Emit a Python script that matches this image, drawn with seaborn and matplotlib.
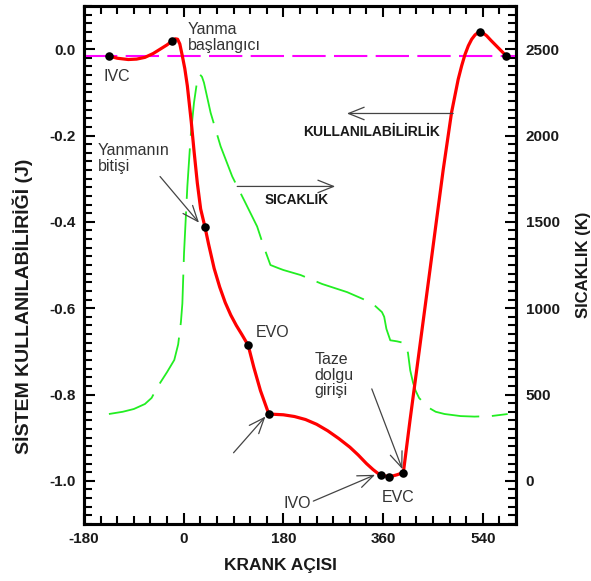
import numpy as np
import pandas as pd
import matplotlib
matplotlib.use("Agg")
import matplotlib.pyplot as plt
import seaborn as sns

# Sistem kullanilabilirligi egrisi (krank acisi, J)
krank_ex = [-135, -120, -100, -85, -70, -55, -40, -30, -21, -15, -11, -7, -2.4, 2,
            6.6, 10, 13.8, 18.6, 24.6, 30.6, 38.4, 45, 55, 65, 75, 85, 95, 105,
            116.4, 126.6, 138.6, 153.6, 165, 180, 200, 220, 240, 260, 280, 300, 315,
            330, 342, 350, 356, 371, 385, 396.6, 408.6, 420.6, 432.6, 444.6, 456.6,
            468.6, 483.6, 495.6, 502, 508, 514, 520, 526, 531, 534.6, 540, 547,
            555, 565, 575, 582.6]
exergy = [-0.016, -0.021, -0.024, -0.023, -0.019, -0.010, 0.002, 0.010, 0.019, 0.024,
          0.023, 0.012, -0.016, -0.045, -0.085, -0.125, -0.170, -0.235, -0.310,
          -0.370, -0.412, -0.452, -0.508, -0.551, -0.587, -0.616, -0.640, -0.661,
          -0.686, -0.737, -0.791, -0.845, -0.846, -0.847, -0.851, -0.858, -0.869,
          -0.884, -0.902, -0.922, -0.940, -0.960, -0.974, -0.982, -0.986, -0.991,
          -0.986, -0.981, -0.860, -0.744, -0.628, -0.512, -0.395, -0.279, -0.147,
          -0.070, -0.038, -0.012, 0.008, 0.023, 0.033, 0.038, 0.040, 0.038, 0.031,
          0.020, 0.007, -0.006, -0.016]

# Sicaklik egrisi (krank acisi, K)
krank_t = [-135, -110, -90, -70, -58, -47, -30, -17, -10, -5, -2.4, 0.6, 6.6, 12.6,
           18.6, 24, 28.8, 33, 36.6, 48.6, 66.6, 87.6, 111.6, 132.6, 144.6, 156.6,
           171.6, 180, 211, 250, 295, 328, 345, 358, 362, 366, 373, 385, 400, 405,
           409, 414, 418.6, 425, 441, 455, 471, 500, 525, 555, 585]
sicaklik = [387, 400, 416, 445, 480, 545, 630, 700, 790, 920, 1027, 1318, 1705, 1996,
            2190, 2310, 2355, 2340, 2306, 2132, 1938, 1763, 1609, 1473, 1356, 1250,
            1231, 1221, 1192, 1140, 1093, 1047, 1015, 977, 950, 880, 814, 808, 797,
            740, 640, 570, 523, 480, 426, 400, 387, 375, 372, 375, 387]

# Olay noktalari
olay_krank = [-135, -21, 38.4, 116.4, 153.6, 356, 371, 396.6, 534.6, 582.6]
olay_ex = [-0.016, 0.019, -0.412, -0.686, -0.845, -0.986, -0.991, -0.981, 0.040, -0.016]

referans = -0.016

x_major = [-180, 0, 180, 360, 540]
y_major = [-1.0, -0.8, -0.6, -0.4, -0.2, 0.0]
t_major = [0, 500, 1000, 1500, 2000, 2500]

df_ex = pd.DataFrame({"krank": krank_ex, "ex": exergy})
df_t = pd.DataFrame({"krank": krank_t, "T": sicaklik})
df_olay = pd.DataFrame({"krank": olay_krank, "ex": olay_ex})

sns.set_style("white")
plt.rcParams["font.family"] = ["Liberation Sans", "DejaVu Sans"]
plt.rcParams["axes.unicode_minus"] = False
txt = "#1a1a1a"

fig, ax = plt.subplots(figsize=(5.91, 5.81), dpi=100)
fig.subplots_adjust(left=84 / 591, right=516 / 591, bottom=57 / 581, top=575 / 581)
ax2 = ax.twinx()

# sicaklik (sag eksen)
sns.lineplot(data=df_t, x="krank", y="T", ax=ax2, color="#22ee22", lw=1.3, sort=False)
ax2.lines[-1].set_dashes((28, 7))

ax.axhline(referans, color="#ff00ff", lw=1.5, dashes=(16, 4), zorder=1)
sns.lineplot(data=df_ex, x="krank", y="ex", ax=ax, color="#ff0000", lw=2.3, sort=False, zorder=3)
sns.scatterplot(data=df_olay, x="krank", y="ex", ax=ax, color="black", s=38,
                edgecolor="black", linewidth=0, zorder=4)

ax.set_zorder(ax2.get_zorder() + 1)
ax.patch.set_visible(False)

ax.set_xlim(-180, 600)
ax.set_ylim(-1.1, 0.1)
ax2.set_ylim(-250, 2750)
ax.set_xticks(x_major)
ax.set_xticks(np.arange(-180, 601, 30), minor=True)
ax.set_yticks(y_major)
ax.set_yticks(np.arange(-1.1, 0.101, 0.02), minor=True)
ax.set_yticklabels([f"{v:.1f}" for v in y_major])
ax2.set_yticks(t_major)
ax2.set_yticks(np.arange(-250, 2751, 50), minor=True)

for a in (ax, ax2):
    for s in a.spines.values():
        s.set_linewidth(2.2)
        s.set_color("black")
ax.tick_params(which="both", direction="in", bottom=True, top=True, left=True, right=False,
               width=1.5, color="black", labelsize=11, labelcolor=txt, pad=6)
ax.tick_params(which="major", length=8)
ax.tick_params(which="minor", length=5.5)
ax2.tick_params(which="both", direction="in", right=True, left=False, width=1.5, color="black",
                labelsize=11, labelcolor=txt, pad=7)
ax2.tick_params(which="major", length=8)
ax2.tick_params(which="minor", length=5.5)
for lab in ax.get_xticklabels() + ax.get_yticklabels() + ax2.get_yticklabels():
    lab.set_fontweight("bold")

ax.set_xlabel("KRANK AÇISI", fontsize=12.5, fontweight="bold", color=txt)
ax.set_ylabel("SİSTEM KULLANILABİLİRİĞİ (J)", fontsize=14, fontweight="bold", color=txt)
ax2.set_ylabel("SICAKLIK (K)", fontsize=12, fontweight="bold", color=txt)
ax.xaxis.set_label_coords(0.454, -0.066)
ax.yaxis.set_label_coords(-0.118, 0.42)
ax2.yaxis.set_label_coords(1.14, 0.5)

# etiketler
ann = "#333333"
ax.text(-144, -0.063, "IVC", fontsize=11.5, color=ann, va="center")
ax.text(7, 0.064, "Yanma\nbaşlangıcı", fontsize=11.5, color=ann, va="top", linespacing=1.1)
ax.text(-155, -0.217, "Yanmanın\nbitişi", fontsize=11.5, color=ann, va="top", linespacing=1.1)
ax.text(130, -0.656, "EVO", fontsize=11.5, color=ann, va="center")
ax.text(180, -1.052, "IVO", fontsize=11.5, color=ann, va="center")
ax.text(358, -1.038, "EVC", fontsize=11.5, color=ann, va="center")
ax.text(236, -0.702, "Taze\ndolgu\ngirişi", fontsize=11.5, color=ann, va="top", linespacing=1.05)
ax.text(339, -0.191, "KULLANILABİLİRLİK", fontsize=10, fontweight="bold", color=txt,
        ha="center", va="center")
ax.text(204, -0.350, "SICAKLIK", fontsize=9.8, fontweight="bold", color=txt,
        ha="center", va="center")

ok = dict(arrowstyle="->,head_length=0.45,head_width=0.18", mutation_scale=25,
          color="#444444", lw=0.9, shrinkA=0, shrinkB=0)
oklar = [((27.6, -0.402), (-42.7, -0.295)),
         ((147.6, -0.851), (90, -0.935)),
         ((345.6, -0.986), (234, -1.047)),
         ((394.8, -0.973), (339.6, -0.787)),
         ((294.6, -0.149), (486.6, -0.149)),
         ((273.6, -0.318), (96.6, -0.318))]
for uc, kuyruk in oklar:
    ax.annotate("", xy=uc, xytext=kuyruk, arrowprops=ok)

fig.savefig("out.png", dpi=100)
